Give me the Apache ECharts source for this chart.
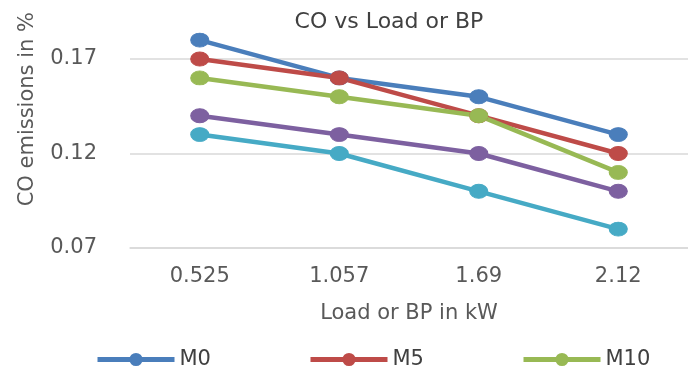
<!DOCTYPE html>
<html>
<head>
<meta charset="utf-8">
<script src="https://cdn.jsdelivr.net/npm/echarts@6/dist/echarts.min.js"></script>
<style>html,body{margin:0;padding:0;background:#fff;}#c{width:688px;height:378px;}</style>
</head>
<body>
<div id="c"></div>
<script>
const categories = ['0.525', '1.057', '1.69', '2.12'];
const seriesNames = ['M0', 'M5', 'M10', 'M15', 'M20'];
const m0 = [0.18, 0.16, 0.15, 0.13];
const m5 = [0.17, 0.16, 0.14, 0.12];
const m10 = [0.16, 0.15, 0.14, 0.11];
const m15 = [0.14, 0.13, 0.12, 0.10];
const m20 = [0.13, 0.12, 0.10, 0.08];
const yTicks = [0.07, 0.12, 0.17];

const values = [m0, m5, m10, m15, m20];
const colors = ['#4a7ebb', '#be4b48', '#98b954', '#7d60a0', '#46aac5'];
const font = 'DejaVu Sans';

const legends = seriesNames.map((n, i) => ({
  data: [n],
  left: 90 + i * 213, top: 344,
  itemWidth: 77, itemHeight: 14,
  lineStyle: { width: 5 },
  textStyle: { fontFamily: font, fontSize: 21, color: '#404040' }
}));

const chart = echarts.init(document.getElementById('c'));
chart.setOption({
  animation: false,
  backgroundColor: '#ffffff',
  title: {
    text: 'CO vs Load or BP',
    left: 384, textAlign: 'center', top: 6,
    textStyle: { fontFamily: font, fontSize: 22, fontWeight: 'normal', color: '#404040' }
  },
  grid: { left: 130, right: -8, top: 59, bottom: 130 },
  legend: legends,
  xAxis: {
    type: 'category', data: categories, boundaryGap: true,
    axisLine: { show: true, lineStyle: { color: '#d9d9d9', width: 1.5 } },
    axisTick: { show: false },
    axisLabel: { fontFamily: font, fontSize: 21, color: '#595959', margin: 18 },
    name: 'Load or BP in kW', nameLocation: 'middle', nameGap: 55,
    nameTextStyle: { fontFamily: font, fontSize: 21, color: '#595959' }
  },
  yAxis: {
    type: 'value', min: yTicks[0], max: yTicks[yTicks.length - 1], interval: 0.05,
    axisLine: { show: false }, axisTick: { show: false },
    axisLabel: { fontFamily: font, fontSize: 21, color: '#595959', margin: 33,
      formatter: v => v.toFixed(2) },
    splitLine: { lineStyle: { color: '#d9d9d9', width: 1.5 } }
  },
  graphic: [{
    type: 'text', left: 17, top: 12, rotation: Math.PI / 2, originX: 0, originY: 0,
    style: { text: 'CO emissions in %', fontFamily: font, fontSize: 21, fill: '#595959' }
  }],
  series: values.map((d, i) => ({
    name: seriesNames[i], type: 'line', data: d, clip: false,
    symbol: 'circle', symbolSize: [18, 14],
    lineStyle: { width: 4.5, color: colors[i] },
    itemStyle: { color: colors[i], borderColor: colors[i], borderWidth: 1 }
  }))
});
</script>
</body>
</html>
